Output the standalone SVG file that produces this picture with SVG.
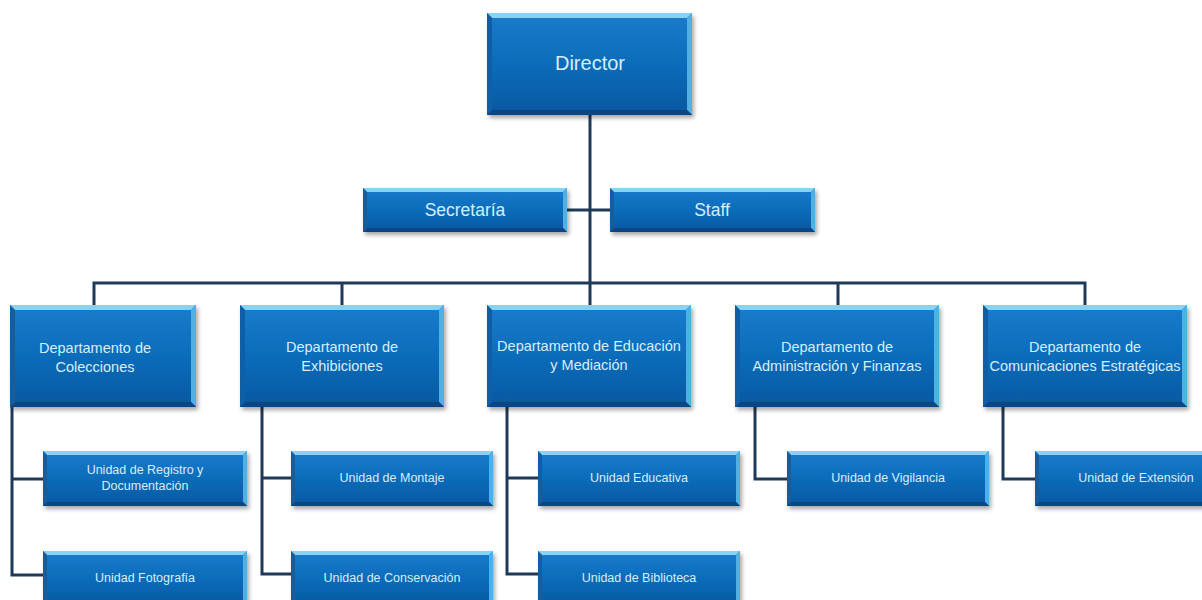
<svg xmlns="http://www.w3.org/2000/svg" width="1202" height="600" viewBox="0 0 1202 600">
<defs>
<linearGradient id="g" x1="0" y1="0" x2="0" y2="1">
<stop offset="0" stop-color="#1a7ccb"/>
<stop offset="0.5" stop-color="#0b6cba"/>
<stop offset="1" stop-color="#0858a0"/>
</linearGradient>
<filter id="sh" x="-10%" y="-10%" width="130%" height="140%">
<feGaussianBlur stdDeviation="2"/>
</filter>
</defs>
<style>
.c{stroke:#1f3a58;stroke-width:3;fill:none}
.s{fill:#000;opacity:.35;filter:url(#sh)}
.b{fill:url(#g)}
.bt{fill:#86d3f4}
.br{fill:#4fb0e4}
.bb{fill:#0a4683}
.bl{fill:#0f5fa6}
text{font-family:"Liberation Sans",Arial,sans-serif;fill:#d6eefb;text-anchor:middle}
.t20{font-size:20px}
.t17{font-size:17.5px}
.t14{font-size:14.5px}
.t12{font-size:12.5px}
</style>
<rect width="1202" height="600" fill="#fff"/>
<g id="connectors">
<path class="c" d="M590 115V283"/>
<path class="c" d="M567 210H610"/>
<path class="c" d="M94 305V283H1085V305M342 283V305M838 283V305M590 283V305"/>
<path class="c" d="M12 407V575H43M12 479H43"/>
<path class="c" d="M262 407V574H291M262 478H291"/>
<path class="c" d="M507 407V574H538M507 478H538"/>
<path class="c" d="M755 407V479H787"/>
<path class="c" d="M1003 407V479H1035"/>
</g>
<g id="director">
<rect class="s" x="489" y="16" width="205" height="102"/>
<rect class="b" x="487" y="13" width="205" height="102"/>
<polygon class="bt" points="487,13 692,13 687,18 492,18"/>
<polygon class="br" points="692,13 692,115 687,110 687,18"/>
<polygon class="bb" points="487,115 692,115 687,110 492,110"/>
<polygon class="bl" points="487,13 487,115 492,110 492,18"/>
<text class="t20" x="590" y="70">Director</text>
</g>
<g id="secretaria">
<rect class="s" x="365" y="191" width="204" height="44"/>
<rect class="b" x="363" y="188" width="204" height="44"/>
<polygon class="bt" points="363,188 567,188 563,192 367,192"/>
<polygon class="br" points="567,188 567,232 563,228 563,192"/>
<polygon class="bb" points="363,232 567,232 563,228 367,228"/>
<polygon class="bl" points="363,188 363,232 367,228 367,192"/>
<text class="t17" x="465" y="216">Secretaría</text>
</g>
<g id="staff">
<rect class="s" x="612" y="191" width="205" height="44"/>
<rect class="b" x="610" y="188" width="205" height="44"/>
<polygon class="bt" points="610,188 815,188 811,192 614,192"/>
<polygon class="br" points="815,188 815,232 811,228 811,192"/>
<polygon class="bb" points="610,232 815,232 811,228 614,228"/>
<polygon class="bl" points="610,188 610,232 614,228 614,192"/>
<text class="t17" x="712" y="216">Staff</text>
</g>
<g id="dep-colecciones">
<rect class="s" x="12" y="308" width="186" height="102"/>
<rect class="b" x="10" y="305" width="186" height="102"/>
<polygon class="bt" points="10,305 196,305 191,310 15,310"/>
<polygon class="br" points="196,305 196,407 191,402 191,310"/>
<polygon class="bb" points="10,407 196,407 191,402 15,402"/>
<polygon class="bl" points="10,305 10,407 15,402 15,310"/>
<text class="t14" x="95" y="353">Departamento de</text>
<text class="t14" x="95" y="372">Colecciones</text>
</g>
<g id="dep-exhibiciones">
<rect class="s" x="242" y="308" width="204" height="102"/>
<rect class="b" x="240" y="305" width="204" height="102"/>
<polygon class="bt" points="240,305 444,305 439,310 245,310"/>
<polygon class="br" points="444,305 444,407 439,402 439,310"/>
<polygon class="bb" points="240,407 444,407 439,402 245,402"/>
<polygon class="bl" points="240,305 240,407 245,402 245,310"/>
<text class="t14" x="342" y="352">Departamento de</text>
<text class="t14" x="342" y="371">Exhibiciones</text>
</g>
<g id="dep-educacion">
<rect class="s" x="489" y="308" width="204" height="102"/>
<rect class="b" x="487" y="305" width="204" height="102"/>
<polygon class="bt" points="487,305 691,305 686,310 492,310"/>
<polygon class="br" points="691,305 691,407 686,402 686,310"/>
<polygon class="bb" points="487,407 691,407 686,402 492,402"/>
<polygon class="bl" points="487,305 487,407 492,402 492,310"/>
<text class="t14" x="589" y="351">Departamento de Educación</text>
<text class="t14" x="589" y="370">y Mediación</text>
</g>
<g id="dep-administracion">
<rect class="s" x="737" y="308" width="204" height="102"/>
<rect class="b" x="735" y="305" width="204" height="102"/>
<polygon class="bt" points="735,305 939,305 934,310 740,310"/>
<polygon class="br" points="939,305 939,407 934,402 934,310"/>
<polygon class="bb" points="735,407 939,407 934,402 740,402"/>
<polygon class="bl" points="735,305 735,407 740,402 740,310"/>
<text class="t14" x="837" y="352">Departamento de</text>
<text class="t14" x="837" y="371">Administración y Finanzas</text>
</g>
<g id="dep-comunicaciones">
<rect class="s" x="985" y="308" width="204" height="102"/>
<rect class="b" x="983" y="305" width="204" height="102"/>
<polygon class="bt" points="983,305 1187,305 1182,310 988,310"/>
<polygon class="br" points="1187,305 1187,407 1182,402 1182,310"/>
<polygon class="bb" points="983,407 1187,407 1182,402 988,402"/>
<polygon class="bl" points="983,305 983,407 988,402 988,310"/>
<text class="t14" x="1085" y="352">Departamento de</text>
<text class="t14" x="1085" y="371">Comunicaciones Estratégicas</text>
</g>
<g id="u-registro">
<rect class="s" x="45" y="454" width="204" height="55"/>
<rect class="b" x="43" y="451" width="204" height="55"/>
<polygon class="bt" points="43,451 247,451 243,455 47,455"/>
<polygon class="br" points="247,451 247,506 243,502 243,455"/>
<polygon class="bb" points="43,506 247,506 243,502 47,502"/>
<polygon class="bl" points="43,451 43,506 47,502 47,455"/>
<text class="t12" x="145" y="474">Unidad de Registro y</text>
<text class="t12" x="145" y="490">Documentación</text>
</g>
<g id="u-fotografia">
<rect class="s" x="45" y="554" width="204" height="55"/>
<rect class="b" x="43" y="551" width="204" height="55"/>
<polygon class="bt" points="43,551 247,551 243,555 47,555"/>
<polygon class="br" points="247,551 247,606 243,602 243,555"/>
<polygon class="bl" points="43,551 43,606 47,602 47,555"/>
<text class="t12" x="145" y="582">Unidad Fotografía</text>
</g>
<g id="u-montaje">
<rect class="s" x="293" y="454" width="202" height="55"/>
<rect class="b" x="291" y="451" width="202" height="55"/>
<polygon class="bt" points="291,451 493,451 489,455 295,455"/>
<polygon class="br" points="493,451 493,506 489,502 489,455"/>
<polygon class="bb" points="291,506 493,506 489,502 295,502"/>
<polygon class="bl" points="291,451 291,506 295,502 295,455"/>
<text class="t12" x="392" y="482">Unidad de Montaje</text>
</g>
<g id="u-conservacion">
<rect class="s" x="293" y="554" width="202" height="55"/>
<rect class="b" x="291" y="551" width="202" height="55"/>
<polygon class="bt" points="291,551 493,551 489,555 295,555"/>
<polygon class="br" points="493,551 493,606 489,602 489,555"/>
<polygon class="bl" points="291,551 291,606 295,602 295,555"/>
<text class="t12" x="392" y="582">Unidad de Conservación</text>
</g>
<g id="u-educativa">
<rect class="s" x="540" y="454" width="202" height="55"/>
<rect class="b" x="538" y="451" width="202" height="55"/>
<polygon class="bt" points="538,451 740,451 736,455 542,455"/>
<polygon class="br" points="740,451 740,506 736,502 736,455"/>
<polygon class="bb" points="538,506 740,506 736,502 542,502"/>
<polygon class="bl" points="538,451 538,506 542,502 542,455"/>
<text class="t12" x="639" y="482">Unidad Educativa</text>
</g>
<g id="u-biblioteca">
<rect class="s" x="540" y="554" width="202" height="55"/>
<rect class="b" x="538" y="551" width="202" height="55"/>
<polygon class="bt" points="538,551 740,551 736,555 542,555"/>
<polygon class="br" points="740,551 740,606 736,602 736,555"/>
<polygon class="bl" points="538,551 538,606 542,602 542,555"/>
<text class="t12" x="639" y="582">Unidad de Biblioteca</text>
</g>
<g id="u-vigilancia">
<rect class="s" x="789" y="454" width="202" height="55"/>
<rect class="b" x="787" y="451" width="202" height="55"/>
<polygon class="bt" points="787,451 989,451 985,455 791,455"/>
<polygon class="br" points="989,451 989,506 985,502 985,455"/>
<polygon class="bb" points="787,506 989,506 985,502 791,502"/>
<polygon class="bl" points="787,451 787,506 791,502 791,455"/>
<text class="t12" x="888" y="482">Unidad de Vigilancia</text>
</g>
<g id="u-extension">
<rect class="s" x="1037" y="454" width="202" height="55"/>
<rect class="b" x="1035" y="451" width="202" height="55"/>
<polygon class="bt" points="1035,451 1237,451 1233,455 1039,455"/>
<polygon class="bb" points="1035,506 1237,506 1233,502 1039,502"/>
<polygon class="bl" points="1035,451 1035,506 1039,502 1039,455"/>
<text class="t12" x="1136" y="482">Unidad de Extensión</text>
</g>
</svg>
